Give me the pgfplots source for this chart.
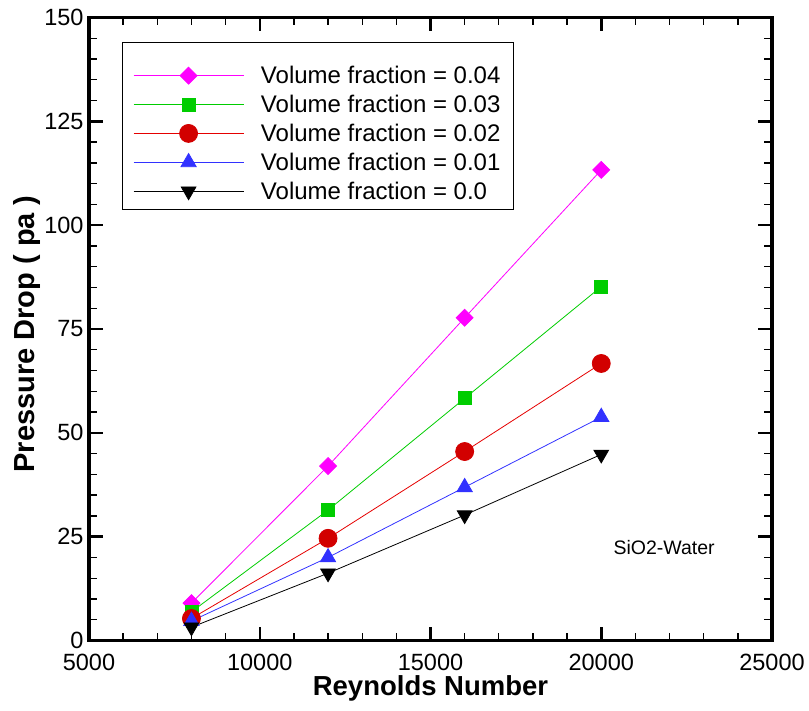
\documentclass[border=0pt]{standalone}
\usepackage{fontspec}
\setmainfont{Liberation Sans}
\usepackage{pgfplots}
\pgfplotsset{compat=1.18}

\definecolor{cmag}{RGB}{255,0,255}
\definecolor{cgreen}{RGB}{0,205,0}
\definecolor{cred}{RGB}{210,0,0}
\definecolor{cblue}{RGB}{50,50,255}

\begin{document}
\begin{tikzpicture}
\useasboundingbox (-89pt,-69.5pt) rectangle (720pt,640.5pt);
\begin{axis}[
  at={(0pt,0pt)}, anchor=south west,
  scale only axis, width=683pt, height=623pt,
  xmin=5000, xmax=25000, ymin=0, ymax=150,
  xtick={5000,10000,15000,20000,25000},
  ytick={0,25,50,75,100,125,150},
  minor x tick num=4, minor y tick num=4,
  tick pos=both, tick align=inside,
  major tick length=14pt, minor tick length=8pt,
  every major tick/.append style={line width=2.5pt, black},
  every minor tick/.append style={line width=1.3pt, black},
  axis line style={line width=3.5pt},
  scaled x ticks=false,
  /pgf/number format/1000 sep={},
  /pgf/number format/assume math mode=true,
  tick label style={font=\fontsize{23.5}{27}\selectfont},
  xticklabel style={yshift=-10pt},
  yticklabel style={xshift=-2pt},
  xlabel={\textbf{Reynolds Number}},
  ylabel={\textbf{Pressure Drop ( pa )}},
  xlabel style={font=\fontsize{27.5}{32}\selectfont, at={(axis description cs:0.5,0)}, anchor=base, yshift=-54.5pt},
  ylabel style={font=\fontsize{29}{33}\selectfont, at={(axis description cs:-0.0791,0.492)}, anchor=base},
  legend cell align=left,
  legend image code/.code={\draw[mark repeat=2,mark phase=2] plot coordinates {(0pt,0pt) (55pt,0pt) (110pt,0pt)};},
  legend style={name=leg, at={(axis description cs:0.0483,0.9366)}, anchor=north west,
    draw=none, fill=none, inner xsep=11pt, inner ysep=7pt,
    font=\fontsize{24}{28}\selectfont, row sep=6pt,
    /tikz/every odd column/.append style={column sep=15pt}},
]
\addplot[cmag, line width=0.8pt, mark=square*, mark size=6pt, mark options={rotate=45, fill=cmag, draw=cmag}]
  coordinates {(8000,9.0) (12000,42.0) (16000,77.7) (20000,113.3)};
\addlegendentry{Volume fraction = 0.04}
\addplot[cgreen, line width=0.8pt, mark=square*, mark size=6.5pt, mark options={fill=cgreen, draw=cgreen}]
  coordinates {(8000,6.9) (12000,31.4) (16000,58.3) (20000,85.2)};
\addlegendentry{Volume fraction = 0.03}
\addplot[red!90!black, line width=0.8pt, mark=*, mark size=9pt, mark options={fill=cred, draw=cred}]
  coordinates {(8000,5.3) (12000,24.6) (16000,45.5) (20000,66.7)};
\addlegendentry{Volume fraction = 0.02}
\addplot[cblue, line width=0.8pt, mark=triangle*, mark size=8.8pt, mark options={fill=cblue, draw=cblue}]
  coordinates {(8000,4.7) (12000,20.0) (16000,36.9) (20000,53.8)};
\addlegendentry{Volume fraction = 0.01}
\addplot[black, line width=0.8pt, mark=triangle*, mark size=8.5pt, mark options={rotate=180, fill=black, draw=black}]
  coordinates {(8000,3.2) (12000,16.2) (16000,30.2) (20000,44.8)};
\addlegendentry{Volume fraction = 0.0}
\node[font=\fontsize{19.5}{23}\selectfont] at (axis cs:21840,22.3) {SiO2-Water};
\end{axis}
\draw[line width=0.8pt] ([yshift=15pt]leg.north west) rectangle (leg.south east);
\end{tikzpicture}
\end{document}
